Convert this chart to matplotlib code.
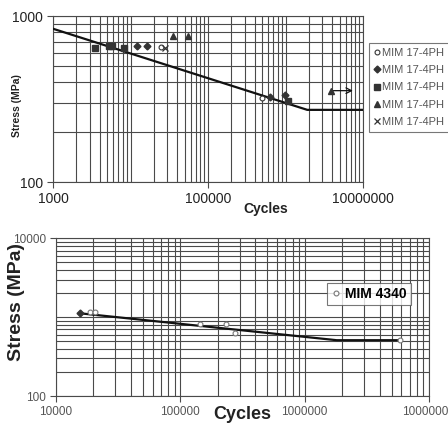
import matplotlib.pyplot as plt
from matplotlib.ticker import LogLocator, FixedLocator, NullFormatter

plt.rcParams['font.family'] = ['Liberation Sans', 'DejaVu Sans']

# ---- top chart data (MIM 17-4PH) ----
circ_x = [24500, 493000]
circ_y = [653, 319]
diam_x = [12000, 16200, 630000, 985000]
diam_y = [659, 659, 326, 334]
sq_x = [3480, 5300, 5700, 8250, 1090000]
sq_y = [639, 662, 662, 639, 309]
tri_x = [35600, 54700, 3830000]
tri_y = [761, 761, 355]
cross_x = [27900]
cross_y = [639]
fit_x = [1000, 1910000, 10000000]
fit_y = [838, 272, 272]
runout_x = [3830000, 8050000]
runout_y = [355, 355]

# ---- bottom chart data (MIM 4340) ----
b_diam_x = [15500]
b_diam_y = [1140]
b_circ_x = [18800, 20600, 143000, 233000, 276000, 5850000]
b_circ_y = [1164, 1164, 812, 812, 636, 515]
b_fit_x = [15500, 1810000, 5850000]
b_fit_y = [1120, 510, 510]

top_xticks = [1e3, 1e5, 1e7]
top_xlabels = ['1000', '100000', '10000000']
top_yticks = [100, 1000]
top_ylabels = ['100', '1000']
bot_xticks = [1e4, 1e5, 1e6, 1e7]
bot_xlabels = ['10000', '100000', '1000000', '10000000']
bot_yticks = [100, 10000]
bot_ylabels = ['100', '10000']

W, H = 448, 423
fig = plt.figure(figsize=(W / 100, H / 100), dpi=100)
grid_c = '#4a4a4a'
mk_c = '#333333'

def setup(ax, xlim, ylim, xt, xl, yt, yl, fs, tc):
    ax.set_xscale('log')
    ax.set_yscale('log')
    ax.set_xlim(*xlim)
    ax.set_ylim(*ylim)
    ax.xaxis.set_major_locator(FixedLocator(xt))
    ax.set_xticklabels(xl)
    ax.yaxis.set_major_locator(FixedLocator(yt))
    ax.set_yticklabels(yl)
    ax.xaxis.set_minor_locator(LogLocator(base=10, subs=range(1, 10), numticks=20))
    ax.yaxis.set_minor_locator(LogLocator(base=10, subs=range(1, 10), numticks=20))
    ax.xaxis.set_minor_formatter(NullFormatter())
    ax.yaxis.set_minor_formatter(NullFormatter())
    ax.grid(True, which='both', color=grid_c, lw=0.8)
    ax.tick_params(which='minor', length=0)
    ax.tick_params(which='major', length=4, color=grid_c, labelsize=fs, labelcolor=tc, pad=3)
    for s in ax.spines.values():
        s.set_color(grid_c)
        s.set_linewidth(0.8)
    ax.set_axisbelow(True)

# 上图
ax1 = fig.add_axes([53 / W, 1 - 182 / H, 310 / W, 166 / H])
setup(ax1, (1e3, 1e7), (100, 1000), top_xticks, top_xlabels, top_yticks, top_ylabels, 10, '#222222')
ax1.plot(fit_x, fit_y, color='#111111', lw=1.6, zorder=3)
ax1.plot(circ_x, circ_y, 'o', mfc='white', mec=mk_c, ms=3.5, mew=0.8, ls='none', label='MIM 17-4PH', zorder=4)
ax1.plot(diam_x, diam_y, 'D', color=mk_c, ms=3.5, ls='none', label='MIM 17-4PH', zorder=4)
ax1.plot(sq_x, sq_y, 's', color=mk_c, ms=4, ls='none', label='MIM 17-4PH', zorder=4)
ax1.plot(tri_x, tri_y, '^', color=mk_c, ms=4.5, ls='none', label='MIM 17-4PH', zorder=4)
ax1.plot(cross_x, cross_y, 'x', color=mk_c, ms=5, mew=0.9, ls='none', label='MIM 17-4PH', zorder=4)
ax1.annotate('', xy=(runout_x[1], runout_y[1]), xytext=(runout_x[0], runout_y[0]),
             arrowprops=dict(arrowstyle='->', color='#111111', lw=0.9), zorder=4)
leg1 = fig.legend(handles=ax1.get_lines()[1:], loc='upper left',
                  bbox_to_anchor=(369 / W, 1 - 43 / H, 0.3, 0), mode='expand',
                  fontsize=8, labelcolor='#555555', frameon=True, fancybox=False,
                  edgecolor='#555555', handlelength=0.6, handletextpad=0.15,
                  labelspacing=0.65, borderpad=0.45, borderaxespad=0)
leg1.get_frame().set_linewidth(0.8)
fig.text(17 / W, 1 - 106 / H, 'Stress (MPa)', rotation=90, ha='center', va='center',
         fontsize=7.5, fontweight='bold', color='#222222')
fig.text(266 / W, 1 - 209 / H, 'Cycles', ha='center', va='center',
         fontsize=10, fontweight='bold', color='#222222')

# 下图
ax2 = fig.add_axes([56 / W, 1 - 396 / H, 373 / W, 157.7 / H])
setup(ax2, (1e4, 1e7), (100, 10000), bot_xticks, bot_xlabels, bot_yticks, bot_ylabels, 8.5, '#555555')
ax2.plot(b_fit_x, b_fit_y, color='#111111', lw=1.6, zorder=3)
ax2.plot(b_circ_x, b_circ_y, 'o', mfc='white', mec='#777777', ms=3.5, mew=0.8, ls='none',
         label='MIM 4340', zorder=4)
ax2.plot(b_diam_x, b_diam_y, 'D', color=mk_c, ms=3.5, ls='none', zorder=4)
leg2 = fig.legend(handles=[ax2.get_lines()[1]], loc='upper left',
                  bbox_to_anchor=(327 / W, 1 - 283 / H),
                  prop={'weight': 'bold', 'size': 10}, frameon=True, fancybox=False,
                  edgecolor='#555555', handlelength=0.7, handletextpad=0.3,
                  borderpad=0.3, borderaxespad=0)
leg2.get_frame().set_linewidth(0.8)
fig.text(17 / W, 1 - 302 / H, 'Stress (MPa)', rotation=90, ha='center', va='center',
         fontsize=14, fontweight='bold', color='#222222')
fig.text(242 / W, 1 - 414 / H, 'Cycles', ha='center', va='center',
         fontsize=13, fontweight='bold', color='#222222')

plt.savefig('out.png', dpi=100)
